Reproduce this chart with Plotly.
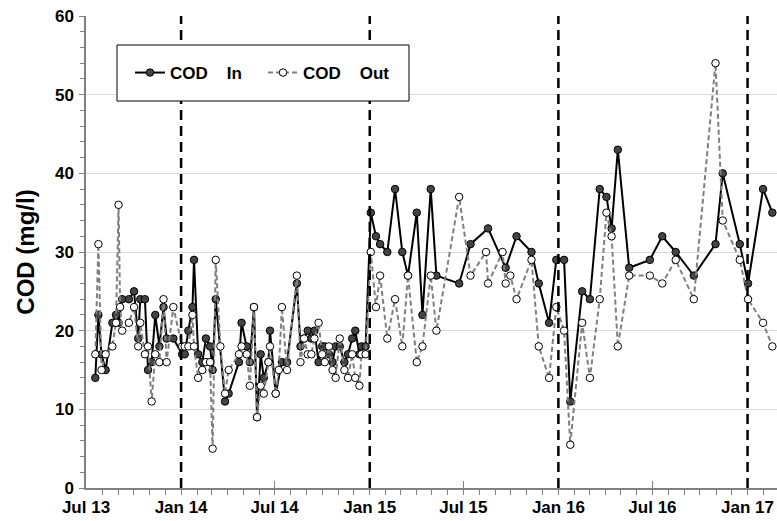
import plotly.graph_objects as go

# ---- data ----
dates = [
    "2013-07-19", "2013-07-25", "2013-07-31", "2013-08-08", "2013-08-21", "2013-08-28",
    "2013-09-02", "2013-09-05", "2013-09-09", "2013-09-22", "2013-10-02", "2013-10-10",
    "2013-10-14", "2013-10-23", "2013-10-29", "2013-11-05", "2013-11-12", "2013-11-20",
    "2013-11-28", "2013-12-04", "2013-12-17", "2014-01-03",
    "2014-01-08", "2014-01-15", "2014-01-23", "2014-01-26", "2014-02-03", "2014-02-11",
    "2014-02-18", "2014-02-26", "2014-03-03", "2014-03-09", "2014-03-18", "2014-03-27",
    "2014-04-03", "2014-04-23", "2014-04-28", "2014-05-08", "2014-05-14", "2014-05-22",
    "2014-05-28", "2014-06-04", "2014-06-10", "2014-06-19", "2014-06-22", "2014-07-03",
    "2014-07-09", "2014-07-15", "2014-07-25", "2014-08-13", "2014-08-20", "2014-08-27",
    "2014-09-03", "2014-09-10", "2014-09-16", "2014-09-24", "2014-10-01", "2014-10-06",
    "2014-10-14", "2014-10-21", "2014-10-27", "2014-11-04", "2014-11-13", "2014-11-20",
    "2014-11-28", "2014-12-04", "2014-12-12", "2014-12-16", "2014-12-24",
    "2015-01-03", "2015-01-13", "2015-01-21", "2015-02-04", "2015-02-19", "2015-03-05",
    "2015-03-16", "2015-04-02", "2015-04-13", "2015-04-29", "2015-05-10", "2015-06-23",
    "2015-07-15", "2015-08-14", "2015-08-18", "2015-09-15", "2015-09-21", "2015-09-30",
    "2015-10-12", "2015-11-10", "2015-11-24", "2015-12-14", "2015-12-28",
    "2016-01-12", "2016-01-24", "2016-02-16", "2016-03-02", "2016-03-21", "2016-04-03",
    "2016-04-13", "2016-04-25", "2016-05-17", "2016-06-26", "2016-07-20", "2016-08-15",
    "2016-09-19", "2016-10-31", "2016-11-14", "2016-12-17",
    "2017-01-02", "2017-01-31", "2017-02-18",
]

cod_in = [
    14, 22, 17, 15, 21, 22,
    21, None, 24, 24, 25, 19,
    24, 24, 15, 16, 22, 18,
    23, 19, 19, 17,
    17, 20, 23, 29, 17, 16,
    19, 18, 15, 24, None, 11,
    12, 16, 21, 18, 16, 23,
    9, 17, 14, 16, 20, 12,
    None, 16, 16, 26, 18, 19,
    20, 19, 20, 16, 18, 18,
    17, 16, 18, 18, 16, 17,
    19, 20, 17, 18, 18,
    35, 32, 31, 30, 38, 30,
    27, 35, 22, 38, 27, 26,
    31, None, 33, None, 28, None,
    32, 30, 26, 21, 29,
    29, 11, 25, 24, 38, 37,
    33, 43, 28, 29, 32, 30,
    27, 31, 40, 31,
    26, 38, 35,
]

cod_out = [
    17, 31, 15, 17, 18, 21,
    36, 23, 20, 21, 23, 18,
    21, 17, 18, 11, 17, 16,
    24, 16, 23, 18,
    18, 18, 22, 18, 14, 15,
    16, 16, 5, 29, 18, 12,
    15, 17, 18, 17, 13, 23,
    9, 13, 12, 16, 18, 12,
    15, 23, 15, 27, 16, 19,
    17, 17, 19, 21, 17, 16,
    18, 15, 14, 19, 15, 14,
    17, 14, 13, 17, 17,
    30, 23, 27, 19, 24, 18,
    27, 16, 18, 27, 20, 37,
    27, 30, 26, 30, 26, 27,
    24, 29, 18, 14, 23,
    20, 5.5, 21, 14, 24, 35,
    32, 18, 27, 27, 26, 29,
    24, 54, 34, 29,
    24, 21, 18,
]

tick_vals = ["2013-07-01", "2014-01-01", "2014-07-01", "2015-01-01",
             "2015-07-01", "2016-01-01", "2016-07-01", "2017-01-01"]
tick_text = ["Jul 13", "Jan 14", "Jul 14", "Jan 15", "Jul 15", "Jan 16", "Jul 16", "Jan 17"]
year_marks = ["2014-01-01", "2015-01-01", "2016-01-01", "2017-01-01"]
series_names = ["COD\u00a0\u00a0\u00a0\u00a0In", "COD\u00a0\u00a0\u00a0\u00a0Out"]

FONT = "Arial, 'Liberation Sans', sans-serif"

fig = go.Figure()
fig.add_trace(go.Scatter(
    x=dates, y=cod_in, name=series_names[0], mode="lines+markers",
    connectgaps=True,
    line=dict(color="black", width=2),
    marker=dict(symbol="circle", size=7.5, color="#444444", line=dict(color="black", width=1)),
))
fig.add_trace(go.Scatter(
    x=dates, y=cod_out, name=series_names[1], mode="lines+markers",
    connectgaps=True,
    line=dict(color="#7f7f7f", width=2, dash="5px,3px"),
    marker=dict(symbol="circle", size=7.5, color="white", line=dict(color="black", width=1)),
))

for d in year_marks:
    fig.add_shape(type="line", xref="x", yref="paper", x0=d, x1=d, y0=0, y1=1,
                  line=dict(color="black", width=2.5, dash="10px,6px"), layer="above")

# legend frame
fig.add_shape(type="rect", xref="paper", yref="paper",
              x0=(117 - 86) / 691, x1=(409 - 86) / 691,
              y0=(488 - 101) / 472, y1=(488 - 45) / 472,
              line=dict(color="black", width=1), fillcolor="white", layer="above")

fig.update_layout(
    width=777, height=521,
    margin=dict(l=86, r=0, t=16, b=33),
    paper_bgcolor="white", plot_bgcolor="white",
    font=dict(family=FONT, size=17, color="black"),
    showlegend=True,
    legend=dict(orientation="h", x=(130 - 86) / 691, xanchor="left",
                y=(488 - 73) / 472, yanchor="middle",
                bgcolor="rgba(0,0,0,0)", borderwidth=0,
                font=dict(family=FONT, size=17, color="black", weight="bold"),
                entrywidth=88, itemwidth=30),
    xaxis=dict(
        type="date", range=["2013-07-01", "2017-02-27"],
        tickmode="array", tickvals=tick_vals, ticktext=tick_text,
        tickfont=dict(family=FONT, size=17, color="black", weight="bold"),
        showgrid=False, zeroline=False,
        showline=True, linecolor="#808080", linewidth=1.5,
        ticks="inside", ticklen=7, tickcolor="#808080", tickwidth=1,
        minor=dict(dtick="M1", tick0="2013-07-01", ticks="outside", ticklen=5,
                   tickcolor="#808080", tickwidth=1, showgrid=False),
        ticklabelstandoff=3,
    ),
    yaxis=dict(
        range=[0, 60], dtick=10, tick0=0,
        tickfont=dict(family=FONT, size=17, color="black", weight="bold"),
        showgrid=True, gridcolor="#d9d9d9", gridwidth=1,
        zeroline=False,
        showline=True, linecolor="#808080", linewidth=1.5,
        ticks="outside", ticklen=5, tickcolor="#808080", tickwidth=1,
        minor=dict(dtick=2, ticks="outside", ticklen=4, tickcolor="#808080",
                   tickwidth=1, showgrid=False),
        ticklabelstandoff=2,
        title=dict(text="COD (mg/l)", standoff=14,
                   font=dict(family=FONT, size=24, color="black", weight="bold")),
    ),
)

fig.write_html("out.html")
